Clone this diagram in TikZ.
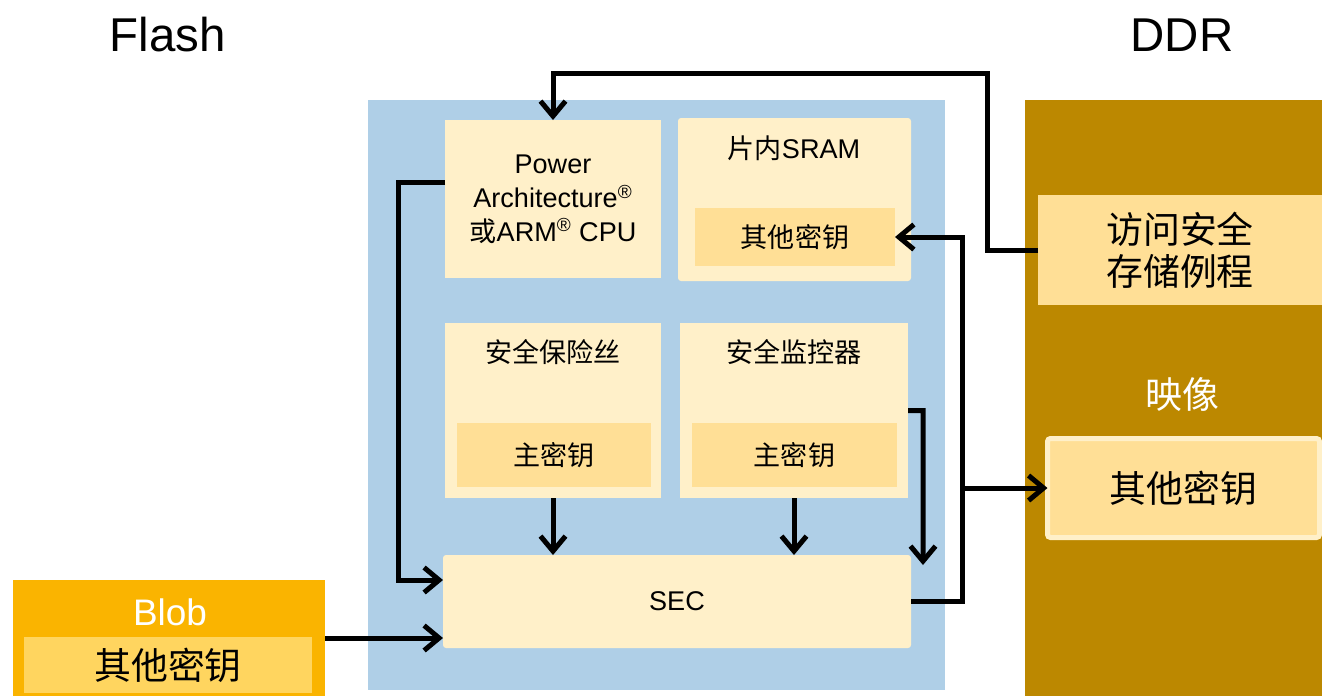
\documentclass[tikz,border=0pt]{standalone}
\usepackage{fontspec}
\setmainfont{Liberation Sans}
\newfontfamily\cjk{Noto Sans CJK SC}
\usepackage{tikz}
\usetikzlibrary{arrows.meta, calc}
\definecolor{chipblue}{RGB}{175,207,231}
\definecolor{cream}{RGB}{255,240,201}
\definecolor{keygold}{RGB}{255,223,150}
\definecolor{blobgold}{RGB}{250,180,0}
\definecolor{blobkey}{RGB}{255,213,95}
\definecolor{ddrgold}{RGB}{188,136,0}
\tikzstyle{arrow} = [line width=1mm, -{Straight Barb[length=3mm,width=5mm]}]
\tikzstyle{block} = [rectangle, fill=cream]
\tikzstyle{keybox} = [rectangle, fill=keygold]

\begin{document}
\begin{tikzpicture}[x=0.2mm, y=-0.2mm, every node/.style={inner sep=0pt, outer sep=0pt},
    small/.style={font=\fontsize{15.4}{19.3}\selectfont},
    big/.style={font=\fontsize{21}{24}\selectfont},
    title/.style={font=\fontsize{27}{30}\selectfont}]
        \fill[white] (0,0) rectangle (1322,696);
        \useasboundingbox (0,0) rectangle (1322,696);

        % Node positions
        \node[fill=chipblue, minimum width=115.4mm, minimum height=118mm] (chip) at (656.5,395) {};
        \node[fill=ddrgold, minimum width=59.4mm, minimum height=119.2mm] (ddr) at (1173.5,398) {};
        \node[title] (flash) at (168,35) {Flash};
        \node[title] (ddrlbl) at (1182,35) {DDR};

        \node[block, minimum width=43.2mm, minimum height=31.6mm, align=center, small] (cpu) at (553,199)
            {Power\\Architecture\textsuperscript{®}\\{\cjk 或}ARM\textsuperscript{®} CPU};
        \node[block, rounded corners=0.6mm, minimum width=46.6mm, minimum height=32.6mm] (sram) at (794.5,199.5) {};
        \node[small] (sramlbl) at (794,148) {{\cjk 片内}SRAM};
        \node[keybox, minimum width=40mm, minimum height=11.6mm, small] (sramkey) at (795,237) {\cjk 其他密钥};

        \node[block, minimum width=43.2mm, minimum height=35mm] (fuse) at (553,410.5) {};
        \node[small] (fuselbl) at (553,352) {\cjk 安全保险丝};
        \node[keybox, minimum width=38.8mm, minimum height=12.8mm, small] (fusekey) at (554,455) {\cjk 主密钥};

        \node[block, minimum width=45.6mm, minimum height=35mm] (monitor) at (794,410.5) {};
        \node[small] (monlbl) at (794,352) {\cjk 安全监控器};
        \node[keybox, minimum width=41mm, minimum height=12.8mm, small] (monkey) at (794.5,455) {\cjk 主密钥};

        \node[block, rounded corners=0.6mm, minimum width=93.6mm, minimum height=18.6mm, small] (sec) at (677,601.5) {SEC};

        \node[fill=blobgold, minimum width=62.4mm, minimum height=23.2mm] (blob) at (169,638) {};
        \node[big, text=white] (bloblbl) at (170,612) {Blob};
        \node[fill=blobkey, minimum width=57.6mm, minimum height=11.2mm, big] (blobkey) at (168,665) {\cjk 其他密钥};

        \node[keybox, minimum width=56.8mm, minimum height=22mm, align=center, big] (access) at (1180,250)
            {\cjk 访问安全\\\cjk 存储例程};
        \node[big, text=white] (imglbl) at (1182,395) {\cjk 映像};
        \node[keybox, draw=cream, line width=1mm, rounded corners=0.6mm, minimum width=54.4mm,
            minimum height=19.8mm, big] (imgkey) at (1183.5,488) {\cjk 其他密钥};

        % bends
        \coordinate (topbend) at (987,73);
        \coordinate (leftbus) at (398,580);
        \coordinate (rightbus) at (962,488);
        \coordinate (monend) at (923,565);

        \draw[arrow] (access.west) -| (topbend) -| (cpu.north);
        \draw[arrow] ($(cpu.west)+(0,-17)$) -| (leftbus) -- (leftbus -| sec.west);
        \draw[arrow] (blob.east) -- (blob.east -| sec.west);
        \draw[arrow] (fuse.south) -- (fuse.south |- sec.north);
        \draw[arrow] (monitor.south) -- (monitor.south |- sec.north);
        \draw[arrow] (monitor.east) -- ++(15,0) -- (monend);
        \draw[arrow] (sec.east) -| (rightbus) |- (sramkey.east);
        \draw[arrow] (rightbus) -- (imgkey.west);
      \end{tikzpicture}
\end{document}
